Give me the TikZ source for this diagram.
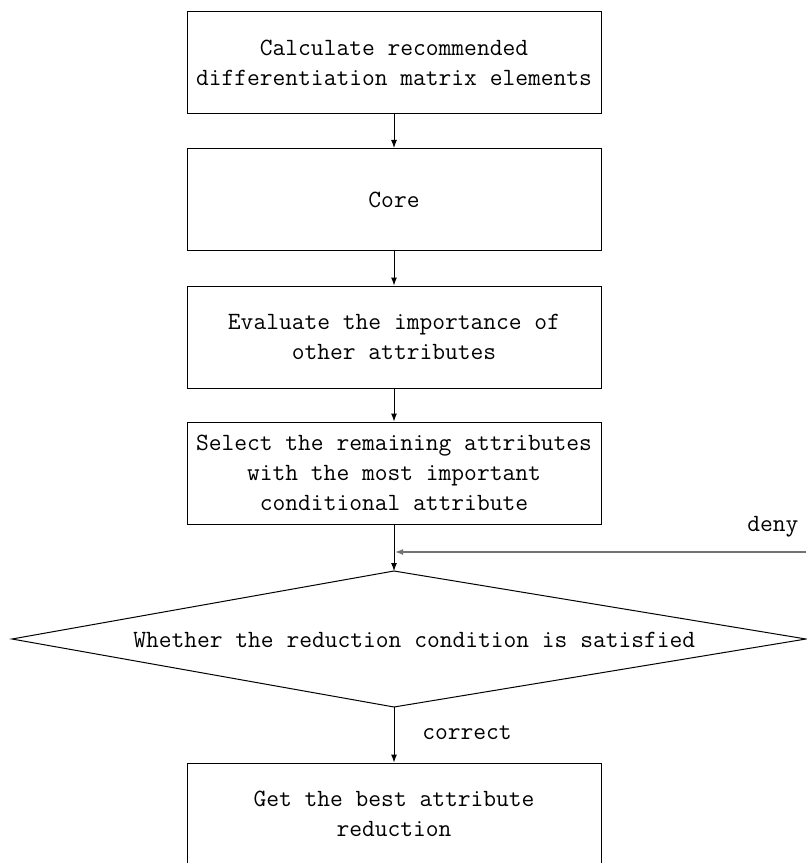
\documentclass[tikz,border=0pt]{standalone}
\usepackage{fontspec}
\usetikzlibrary{arrows.meta}
\begin{document}
\begin{tikzpicture}[x=0.75pt,y=-0.75pt,
  every node/.style={font=\ttfamily\fontsize{18.6pt}{22.5pt}\selectfont},
  procbox/.style={draw,line width=0.75pt,minimum width=310.5pt,minimum height=76.5pt,
    align=center,inner sep=0pt},
  flow/.style={line width=0.75pt,-{Latex[length=6pt,width=4.5pt]}},
  loopback/.style={line width=1pt,draw=black!55,-{Latex[length=6pt,width=4.5pt]}}]
\useasboundingbox (0,0) rectangle (806,863);

% process boxes
\node[procbox] (calc) at (394,63) {Calculate recommended\\differentiation matrix elements};
\node[procbox] (core) at (394,199.5) {Core};
\node[procbox] (eval) at (394,337) {Evaluate the importance of\\other attributes};
\node[procbox] (sel)  at (394,473) {Select the remaining attributes\\with the most important\\conditional attribute};
\node[procbox] (best) at (394,814) {Get the best attribute\\reduction};

% decision diamond
\coordinate (dtop) at (394,571);
\coordinate (dbot) at (394,707);
\coordinate (dleft) at (12,639);
\coordinate (dright) at (806,639);
\draw[line width=0.75pt] (dtop) -- (dright) -- (dbot) -- (dleft) -- cycle;
\node[anchor=base west,inner sep=0pt] (cond) at (133,647) {Whether the reduction condition is satisfied};

% connectors
\draw[flow] (calc.south) -- (core.north);
\draw[flow] (core.south) -- (eval.north);
\draw[flow] (eval.south) -- (sel.north);
\draw[flow] (sel.south) -- (dtop);
\draw[flow] (dbot) -- (best.north);

% "deny" return path
\coordinate (denystart) at (806,552);
\coordinate (join) at (395,552);
\draw[loopback] (denystart) -- (join);
\node[anchor=base west,inner sep=0pt] (deny) at (747,531) {deny};
\node[anchor=base west,inner sep=0pt] (yes) at (422,739) {correct};
\end{tikzpicture}
\end{document}
